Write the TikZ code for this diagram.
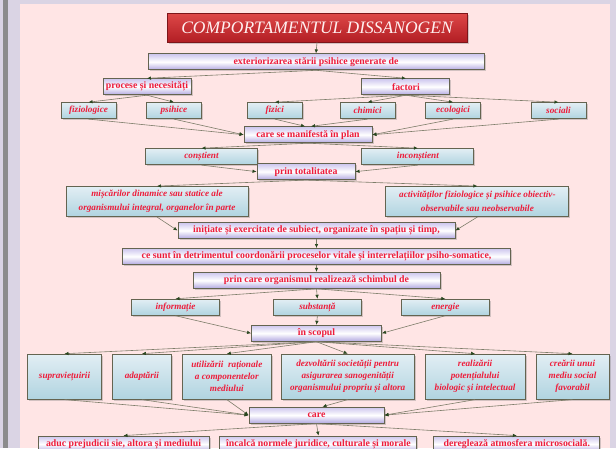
\documentclass[tikz,border=0pt]{standalone}
\usepackage{fontspec}
\setmainfont{Liberation Serif}
\usepackage{tikz}
\usetikzlibrary{arrows.meta,positioning,shadows}
\definecolor{MyBack}{RGB}{218,212,228}
\definecolor{MyPanel}{RGB}{255,229,229}
\definecolor{MyStrip}{RGB}{140,140,140}
\definecolor{MyRed}{RGB}{238,28,58}
\definecolor{MyLine}{RGB}{125,125,105}
\definecolor{MyTip}{RGB}{40,70,30}
\definecolor{MyBorder}{RGB}{100,100,80}
\definecolor{MyLavTop}{RGB}{205,198,238}
\definecolor{MyLavBot}{RGB}{178,168,225}
\definecolor{MyBlueTop}{RGB}{226,238,244}
\definecolor{MyBlueBot}{RGB}{176,212,224}
\definecolor{MyTitleTop}{RGB}{222,72,72}
\definecolor{MyTitleBot}{RGB}{178,30,36}
\begin{document}
\begin{tikzpicture}[x=1pt,y=1pt,node distance=8pt,every node/.style={font=\fontsize{9.8}{12}\selectfont\bfseries,text=MyRed,align=center,inner sep=0pt},
lav/.style={draw=MyBorder,line width=.9pt,top color=MyLavTop,bottom color=MyLavBot,middle color=white,minimum height=16pt,drop shadow={opacity=.35,shadow xshift=1.5pt,shadow yshift=-1.5pt}},
blue/.style={draw=MyBorder,line width=.9pt,top color=MyBlueTop,bottom color=MyBlueBot,minimum height=16pt,font=\fontsize{9.2}{12}\selectfont\bfseries\itshape,drop shadow={opacity=.35,shadow xshift=1.5pt,shadow yshift=-1.5pt}},
ttl/.style={draw=MyTitleBot!70!black,line width=.8pt,top color=MyTitleTop,bottom color=MyTitleBot,text=white!94!red,font=\fontsize{17.5}{20}\selectfont\itshape,drop shadow={opacity=.35,shadow xshift=1.5pt,shadow yshift=-1.5pt}},
arrow/.style={-{Latex[length=4pt,width=3.5pt,color=MyTip]},draw=MyLine,line width=.6pt}]
\fill[MyBack] (0,0) rectangle (616,-448);
\fill[MyStrip] (3,0) rectangle (8,-448);
\fill[MyPanel] (20,-4) rectangle (610,-448);
\useasboundingbox (0,0) rectangle (616,-448);
\node[ttl,minimum width=300pt,minimum height=29pt] (title) at (317,-27.5) {COMPORTAMENTUL DISSANOGEN};
\node[lav,minimum width=336pt,below=11pt of title,xshift=-1pt] (ext) {exteriorizarea stării psihice generate de};
\node[lav,minimum width=88pt,below=8pt of ext,xshift=-169pt] (proc) {procese și necesități};
\node[lav,minimum width=88pt,right=170pt of proc] (fact) {factori};
\node[blue,minimum width=55pt,below=7pt of proc,xshift=-58.5pt] (fiziol) {fiziologice};
\node[blue,minimum width=55pt,right=29.5pt of fiziol] (psih) {psihice};
\node[blue,minimum width=55pt,right=45pt of psih] (fizic) {fizici};
\node[blue,minimum width=55pt,right=37pt of fizic] (chim) {chimici};
\node[blue,minimum width=55pt,right=29.5pt of chim] (ecol) {ecologici};
\node[blue,minimum width=55pt,right=49.5pt of ecol] (soc) {sociali};
\node[lav,minimum width=128pt,below=56pt of ext,xshift=-8pt] (plan) {care se manifestă în plan};
\node[blue,minimum width=112pt,below=5pt of plan,xshift=-106.5pt] (consc) {conștient};
\node[blue,minimum width=112pt,right=103.5pt of consc] (incons) {inconștient};
\node[lav,minimum width=98pt,below=20pt of plan,xshift=-2pt] (total) {prin totalitatea};
\node[blue,minimum width=182pt,minimum height=30pt,font=\fontsize{9.2}{14}\selectfont\bfseries\itshape,below=6pt of total,xshift=-149pt] (misc) {mișcărilor dinamice sau statice ale\\organismului integral, organelor în parte};
\node[blue,minimum width=183pt,minimum height=30pt,font=\fontsize{9.2}{14}\selectfont\bfseries\itshape,right=137pt of misc] (activ) {activităților fiziologice și psihice obiectiv-\\observabile sau neobservabile};
\node[lav,minimum width=277pt,below=42pt of total,xshift=10.5pt] (init) {inițiate și exercitate de subiect, organizate în spațiu și timp,};
\node[lav,minimum width=388pt,below=9pt of init] (detr) {ce sunt în detrimentul coordonării proceselor vitale și interrelațiilor psiho-somatice,};
\node[lav,minimum width=247pt,below=7pt of detr] (schimb) {prin care organismul realizează schimbul de};
\node[blue,minimum width=88pt,below=10pt of schimb,xshift=-141pt] (info) {informație};
\node[blue,minimum width=88pt,right=53pt of info] (subst) {substanță};
\node[blue,minimum width=88pt,right=39pt of subst] (energ) {energie};
\node[lav,minimum width=130pt,below=36pt of schimb] (scop) {în scopul};
\node[blue,minimum width=74pt,minimum height=45pt,below=12pt of scop,xshift=-252pt] (supr) {supraviețuirii};
\node[blue,minimum width=59pt,minimum height=45pt,right=10pt of supr] (adapt) {adaptării};
\node[blue,minimum width=89pt,minimum height=45pt,right=10pt of adapt] (util) {utilizării~ raționale\\a componentelor\\mediului};
\node[blue,minimum width=133pt,minimum height=45pt,right=9pt of util] (dezv) {dezvoltării societății pentru\\asigurarea sanogenității\\organismului propriu și altora};
\node[blue,minimum width=100pt,minimum height=45pt,right=10pt of dezv] (realiz) {realizării\\potențialului\\biologic și intelectual};
\node[blue,minimum width=73pt,minimum height=45pt,right=10pt of realiz] (creare) {creării unui\\mediu social\\favorabil};
\node[lav,minimum width=135pt,below=65pt of scop] (care) {care};
\node[lav,minimum width=171pt,below=12pt of care,xshift=-193pt] (preju) {aduc prejudicii sie, altora și mediului};
\node[lav,minimum width=197pt,right=10pt of preju] (norme) {încalcă normele juridice, culturale și morale};
\node[lav,minimum width=166pt,right=16pt of norme] (atmos) {dereglează atmosfera microsocială.};
\draw[arrow] (title.south) -- (ext.north);
\draw[arrow] (ext.south) -- (proc.north);
\draw[arrow] (ext.south) -- (fact.north);
\draw[arrow] (proc.south) -- (fiziol.north);
\draw[arrow] (proc.south) -- (psih.north);
\foreach \n in {fizic,chim,ecol,soc}
  \draw[arrow] (fact.south) -- (\n.north);
\draw[arrow] (fiziol.south) -- (plan.west);
\draw[arrow] (psih.south) -- (plan.west);
\draw[arrow] (fizic.south) -- ([xshift=-3pt]plan.north);
\draw[arrow] (chim.south) -- ([xshift=3pt]plan.north);
\draw[arrow] (ecol.south) -- (plan.east);
\draw[arrow] (soc.south) -- (plan.east);
\draw[arrow] (plan.south) -- (consc.north);
\draw[arrow] (plan.south) -- (incons.north);
\draw[arrow] (consc.south) -- (total.west);
\draw[arrow] (incons.south) -- (total.east);
\draw[arrow] (total.south) -- (misc.north);
\draw[arrow] (total.south) -- (activ.north);
\draw[arrow] (misc.south) -- (init.west);
\draw[arrow] (activ.south) -- (init.east);
\draw[arrow] (init.south) -- (detr.north);
\draw[arrow] (detr.south) -- (schimb.north);
\foreach \n in {info,subst,energ}
  \draw[arrow] (schimb.south) -- (\n.north);
\draw[arrow] (info.south) -- (scop.west);
\draw[arrow] (subst.south) -- (scop.north);
\draw[arrow] (energ.south) -- (scop.east);
\foreach \n in {supr,adapt,util,dezv,realiz,creare}
  \draw[arrow] (scop.south) -- (\n.north);
\draw[arrow] (supr.south) -- (care.west);
\draw[arrow] (adapt.south) -- (care.west);
\draw[arrow] (util.south) -- (care.west);
\draw[arrow] (dezv.south) -- ([xshift=6pt]care.north);
\draw[arrow] (realiz.south) -- (care.east);
\draw[arrow] (creare.south) -- (care.east);
\foreach \n in {preju,norme,atmos}
  \draw[arrow] (care.south) -- (\n.north);
\end{tikzpicture}
\end{document}
